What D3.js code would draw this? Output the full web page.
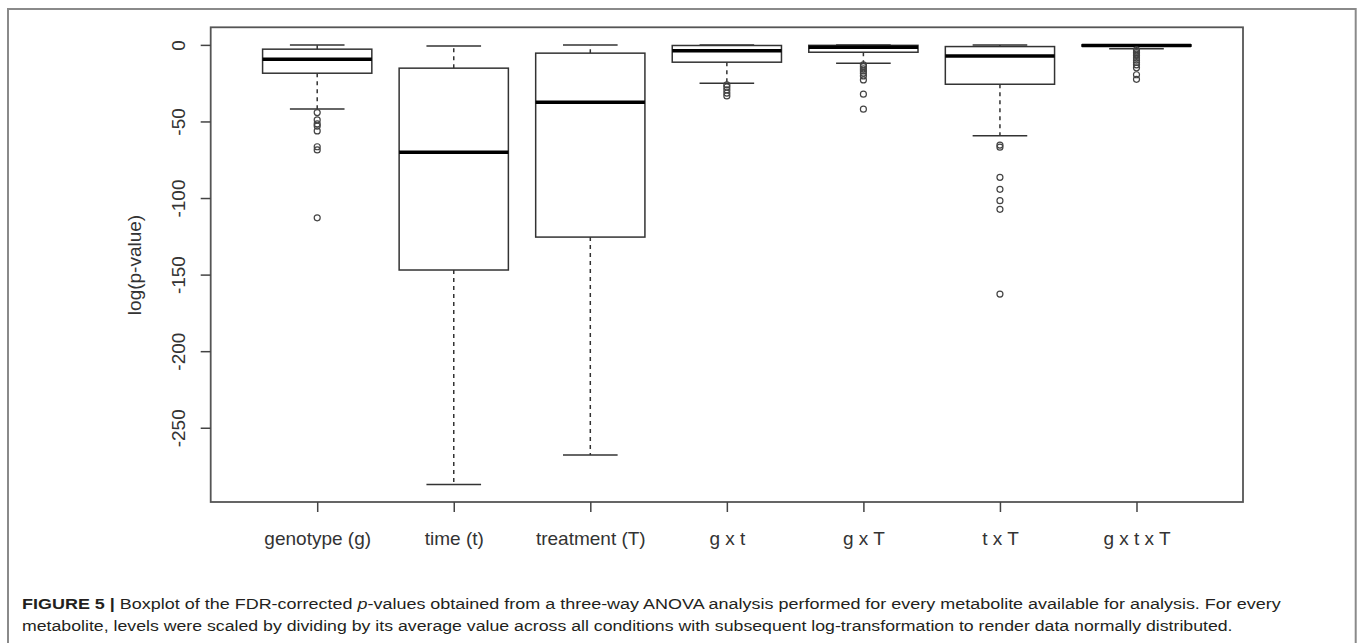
<!DOCTYPE html>
<html>
<head>
<meta charset="utf-8">
<script src="https://cdn.jsdelivr.net/npm/d3@7"></script>
<style>
  html, body { margin: 0; padding: 0; background: #fff; }
  svg { display: block; }
</style>
</head>
<body>
<svg id="chart" width="1358" height="643"></svg>
<script>
// ---- data ----
const categories  = ["genotype (g)", "time (t)", "treatment (T)", "g x t", "g x T", "t x T", "g x t x T"];
const whiskerHigh = [0, -0.8, -0.1, 0, 0, 0, 0];
const q3          = [-2.8, -15.2, -5.4, -0.4, -0.3, -1.1, 0];
const median      = [-9.4, -70.1, -37.5, -3.9, -1.6, -7.2, -0.4];
const q1          = [-18.5, -147, -125.5, -11.3, -4.8, -25.7, -0.8];
const whiskerLow  = [-41.8, -287, -267.8, -25, -12, -59.3, -2.6];
const outliers    = [
  [-44.2, -49, -51.6, -53, -56.2, -66.5, -68.6, -112.9],
  [],
  [],
  [-26.1, -27.5, -29.4, -31.5, -33.3],
  [-13, -14.2, -15.7, -17, -18.5, -20.3, -22.9, -32.2, -42],
  [-65.4, -66.8, -86.5, -94.3, -101.7, -107.4, -162.7],
  [-3.2, -4, -5, -6, -7, -8.5, -10, -11.5, -13, -15, -19.5, -22.5]
];
const yTicks = [0, -50, -100, -150, -200, -250];
const yTitle = "log(p-value)";

// ---- layout ----
const svg = d3.select("#chart");
const plot = { left: 210.7, right: 1243, top: 27.3, bottom: 502 };

// y domain: data range extended by 4% (R style)
const allVals = [].concat(whiskerHigh, whiskerLow, ...outliers);
const yMin = d3.min(allVals), yMax = d3.max(allVals);
const pad = (yMax - yMin) * 0.04;
const y = d3.scaleLinear().domain([yMin - pad, yMax + pad]).range([plot.bottom, plot.top]);
const x = d3.scalePoint().domain(categories).range([plot.left, plot.right]).padding(0.78);
const step = x.step();
const boxW = step * 0.8;
const capW = boxW * 0.5;

// outer figure frame
svg.append("rect")
  .attr("x", 8).attr("y", 9).attr("width", 1347.7).attr("height", 660)
  .attr("fill", "none").attr("stroke", "#8a8a8a").attr("stroke-width", 2);

const lineCol = "#333";

// boxes
const boxes = categories.map((c, i) => ({
  c, hi: whiskerHigh[i], q3: q3[i], med: median[i], q1: q1[i], lo: whiskerLow[i], out: outliers[i]
}));

const g = svg.append("g");
boxes.forEach(b => {
  const cx = x(b.c);
  // whiskers (dashed)
  g.append("line").attr("x1", cx).attr("x2", cx).attr("y1", y(b.q3)).attr("y2", y(b.hi))
    .attr("stroke", lineCol).attr("stroke-width", 1.5).attr("stroke-dasharray", "4,4");
  g.append("line").attr("x1", cx).attr("x2", cx).attr("y1", y(b.q1)).attr("y2", y(b.lo))
    .attr("stroke", lineCol).attr("stroke-width", 1.5).attr("stroke-dasharray", "4,4");
  // staples
  [b.hi, b.lo].forEach(v => {
    g.append("line").attr("x1", cx - capW / 2).attr("x2", cx + capW / 2).attr("y1", y(v)).attr("y2", y(v))
      .attr("stroke", lineCol).attr("stroke-width", 1.5);
  });
  // box
  g.append("rect").attr("x", cx - boxW / 2).attr("width", boxW)
    .attr("y", y(b.q3)).attr("height", Math.max(0.5, y(b.q1) - y(b.q3)))
    .attr("fill", "#fff").attr("stroke", lineCol).attr("stroke-width", 1.5);
  // median
  g.append("line").attr("x1", cx - boxW / 2).attr("x2", cx + boxW / 2).attr("y1", y(b.med)).attr("y2", y(b.med))
    .attr("stroke", "#000").attr("stroke-width", 3.5);
  // outliers
  g.selectAll(null).data(b.out).enter().append("circle")
    .attr("cx", cx).attr("cy", d => y(d)).attr("r", 3)
    .attr("fill", "none").attr("stroke", "#444").attr("stroke-width", 1.2);
});

// plot frame
svg.append("rect")
  .attr("x", plot.left).attr("y", plot.top)
  .attr("width", plot.right - plot.left).attr("height", plot.bottom - plot.top)
  .attr("fill", "none").attr("stroke", "#555").attr("stroke-width", 1.8);

// y axis
const yAxis = d3.axisLeft(y).tickValues(yTicks).tickSize(10).tickPadding(0).tickFormat(d3.format("d"));
const ya = svg.append("g").attr("transform", `translate(${plot.left},0)`).call(yAxis);
ya.select(".domain").remove();
ya.selectAll(".tick line").attr("stroke", "#444").attr("stroke-width", 1.5);
ya.selectAll(".tick text")
  .attr("x", null).attr("dy", null)
  .attr("transform", `translate(${185 - plot.left},0) rotate(-90)`)
  .attr("text-anchor", "middle")
  .attr("font-family", "'Liberation Sans', Arial, sans-serif")
  .attr("font-size", 19).attr("fill", "#333")
  .text(d => String(d));

// x axis
const xAxis = d3.axisBottom(x).tickSize(10).tickPadding(0);
const xa = svg.append("g").attr("transform", `translate(0,${plot.bottom})`).call(xAxis);
xa.select(".domain").remove();
xa.selectAll(".tick line").attr("stroke", "#444").attr("stroke-width", 1.5);
xa.selectAll(".tick text")
  .attr("y", 43).attr("dy", null)
  .attr("font-family", "'Liberation Sans', Arial, sans-serif")
  .attr("font-size", 19).attr("fill", "#333");

// y title
svg.append("text")
  .attr("transform", "translate(141,265) rotate(-90)")
  .attr("text-anchor", "middle")
  .attr("font-family", "'Liberation Sans', Arial, sans-serif")
  .attr("font-size", 19).attr("fill", "#333")
  .text(yTitle);

// caption
const capFont = "'Liberation Sans', Arial, sans-serif";
function captionLine(yb, targetRight, parts) {
  const gg = svg.append("g");
  const t = gg.append("text").attr("x", 0).attr("y", 0)
    .attr("font-family", capFont).attr("font-size", 15).attr("fill", "#231f20");
  parts.forEach(p => {
    const ts = t.append("tspan").text(p.t);
    if (p.b) ts.attr("font-weight", "bold");
    if (p.i) ts.attr("font-style", "italic");
  });
  const w = t.node().getComputedTextLength();
  const sx = (targetRight - 22) / w;
  gg.attr("transform", `translate(22,${yb}) scale(${sx},1)`);
}
captionLine(609, 1281, [
  { t: "FIGURE 5 | ", b: true },
  { t: "Boxplot of the FDR-corrected " },
  { t: "p", i: true },
  { t: "-values obtained from a three-way ANOVA analysis performed for every metabolite available for analysis. For every" }
]);
captionLine(631, 1233, [
  { t: "metabolite, levels were scaled by dividing by its average value across all conditions with subsequent log-transformation to render data normally distributed." }
]);
</script>
</body>
</html>
